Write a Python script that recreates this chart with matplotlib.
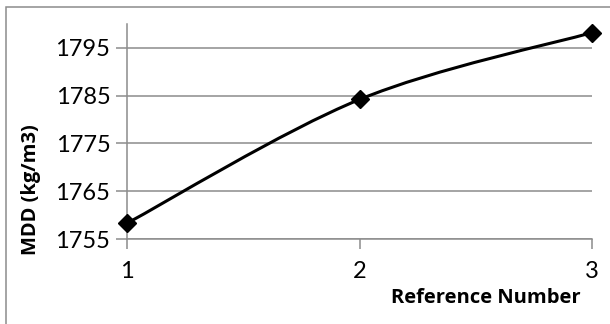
import matplotlib
matplotlib.use("Agg")
import matplotlib.pyplot as plt
from matplotlib.path import Path
from matplotlib.patches import PathPatch, Rectangle
import numpy as np

ref_numbers = [1, 2, 3]
mdd_values = [1758.3, 1784.2, 1798.2]
y_ticks = [1755, 1765, 1775, 1785, 1795]
x_label = "Reference Number"
y_label = "MDD (kg/m3)"

plt.rcParams['font.family'] = ['Lato', 'DejaVu Sans']

W, H = 610, 324
fig = plt.figure(figsize=(W / 100, H / 100), dpi=100)
ax = fig.add_axes([127 / W, 1 - 239 / H, (592 - 127) / W, (239 - 24) / H])

# Excel-like smoothed line (Bezier with 1/6 tangents)
P = np.column_stack([ref_numbers, mdd_values]).astype(float)
n = len(P)
verts = [tuple(P[0])]
codes = [Path.MOVETO]
for i in range(n - 1):
    p_prev = P[i - 1] if i > 0 else P[i]
    p_next2 = P[i + 2] if i + 2 < n else P[i + 1]
    c1 = P[i] + (P[i + 1] - p_prev) / 6
    c2 = P[i + 1] - (p_next2 - P[i]) / 6
    verts += [tuple(c1), tuple(c2), tuple(P[i + 1])]
    codes += [Path.CURVE4] * 3
ax.add_patch(PathPatch(Path(verts, codes), fill=False, edgecolor='black',
                       linewidth=2.2, capstyle='round', joinstyle='round',
                       zorder=3, clip_on=False))
ax.plot(ref_numbers, mdd_values, linestyle='none', marker='D', markersize=9.5,
        color='black', zorder=4, clip_on=False)

ax.set_xlim(1, 3)
ax.set_ylim(1755, 1800)
ax.set_xticks(ref_numbers)
ax.set_xticklabels([str(v) for v in ref_numbers])
ax.set_yticks(y_ticks)
ax.set_yticklabels([str(v) for v in y_ticks])

ax.yaxis.grid(True, color='#8c8c8c', linewidth=1.1)
ax.set_axisbelow(True)
for s in ['top', 'right']:
    ax.spines[s].set_visible(False)
for s in ['left', 'bottom']:
    ax.spines[s].set_color('#8c8c8c')
    ax.spines[s].set_linewidth(1.1)
ax.tick_params(axis='both', colors='#8c8c8c', labelcolor='black',
               labelsize=17, width=1.1)
ax.tick_params(axis='y', length=8, pad=4)
ax.tick_params(axis='x', length=7, pad=9)

fig.text(31 / W, 1 - 190 / H, y_label, rotation=90, ha='center', va='center',
         fontsize=14.5, fontweight='bold', family=['Open Sans', 'DejaVu Sans'])
fig.text(581 / W, 1 - 298 / H, x_label, ha='right', va='center',
         fontsize=14.5, fontweight='bold', family=['Open Sans', 'DejaVu Sans'])

fig.patches.append(Rectangle((6 / W, -0.1), 1.2, (1 - 7 / H) + 0.1,
                             transform=fig.transFigure, fill=False,
                             edgecolor='#8c8c8c', linewidth=1.1))

fig.savefig("out.png", dpi=100, facecolor='white')
